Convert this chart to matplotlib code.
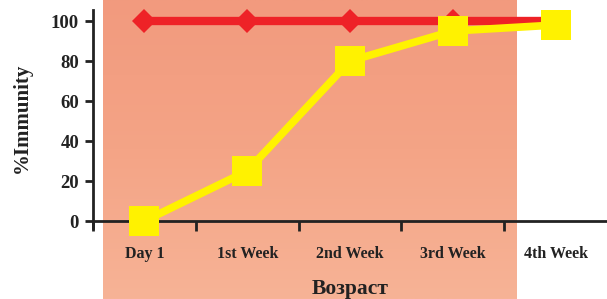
import numpy as np
import matplotlib
matplotlib.use("Agg")
import matplotlib.pyplot as plt
from matplotlib.colors import LinearSegmentedColormap

categories = ["Day 1", "1st Week", "2nd Week", "3rd Week", "4th Week"]
reference = [100, 100, 100, 100, 100]
immunity = [0, 25, 80, 95, 98]
yticks = [0, 20, 40, 60, 80, 100]

plt.rcParams['font.family'] = ['Liberation Serif', 'DejaVu Serif']
plt.rcParams['font.weight'] = 'bold'

W, H = 607, 299
fig = plt.figure(figsize=(W / 100, H / 100), dpi=100)

# shaded background band with soft vertical gradient
bg = fig.add_axes([103 / W, 0, 414 / W, 1])
cmap = LinearSegmentedColormap.from_list("band", ["#f7b396", "#f4a486", "#f29a7e"])
bg.imshow(np.linspace(0, 1, 256).reshape(-1, 1), aspect="auto", cmap=cmap,
          origin="lower", extent=[0, 1, 0, 1])
bg.set_axis_off()

ax = fig.add_axes([93 / W, 71 / H, (W - 93) / W, 218 / H])
ax.set_zorder(2)
ax.patch.set_alpha(0)

x = np.arange(len(categories))
ax.plot(x, reference, color="#ee2227", lw=6, marker="D", ms=12.5,
        markevery=[0, 1, 2, 3], markeredgewidth=0, clip_on=False, zorder=3)
ax.plot(x, immunity, color="#fff200", lw=5.5, marker="s", ms=21,
        markeredgewidth=0, clip_on=False, zorder=4)

ax.set_xlim(-0.5, 4.5)
ax.set_ylim(-3.5, 105.5)
ax.spines['top'].set_visible(False)
ax.spines['right'].set_visible(False)
ax.spines['bottom'].set_position(('data', 0))
for s in ('left', 'bottom'):
    ax.spines[s].set_linewidth(2)
    ax.spines[s].set_color("#222222")

ax.set_yticks(yticks)
ax.set_yticklabels([str(v) for v in yticks], fontsize=13.5, fontweight='bold')
ax.set_xticks(np.arange(-0.5, 4.0, 1.0))
ax.set_xticklabels([])
ax.set_xticks(x, minor=True)
ax.set_xticklabels(categories, minor=True, fontsize=11.5, fontweight='bold')
ax.tick_params(axis='x', which='major', length=7, width=2, color="#222222", direction='out')
ax.tick_params(axis='x', which='minor', length=0, pad=18, colors="#222222")
ax.tick_params(axis='y', length=6, width=2, color="#222222", pad=4, labelcolor="#222222")

fig.text(22 / W, 1 - 118 / H, "%Immunity", rotation=90, ha='center', va='center',
         fontsize=15, fontweight='bold', color="#222222")
fig.text(350 / W, 1 - 289 / H, "Возраст", ha='center', va='center',
         fontsize=15.5, fontweight='bold', color="#222222")

fig.savefig("out.png", dpi=100)
